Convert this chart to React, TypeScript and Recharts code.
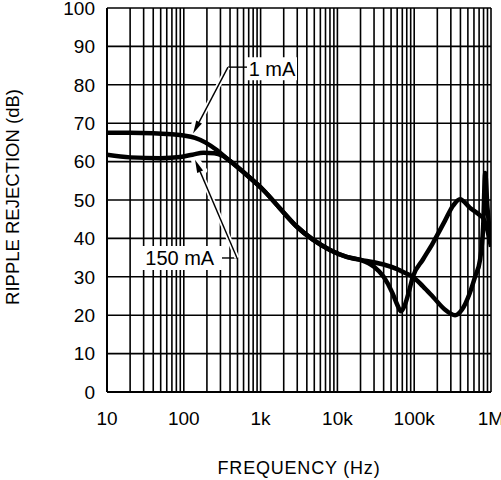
import React from 'react';
import {
    LineChart,
    Line,
    XAxis,
    YAxis,
    CartesianGrid,
    ReferenceArea,
    ReferenceLine
} from 'recharts';

const FONT = '"Liberation Sans", Arial, sans-serif';

// ripple rejection (dB) vs frequency (Hz)
const freq1mA = [
    10, 20, 40, 70, 100, 140, 190, 260, 364, 660, 1085, 1790, 2950, 4850, 8000, 13200, 20000,
    30000, 40000, 52000, 60000, 67000, 75000, 85000, 96000, 130000, 175000, 250000, 320000,
    395000, 530000, 720000, 790000, 900000, 1000000
];
const rr1mA = [
    67.5, 67.5, 67.4, 67.1, 66.8, 66.2, 65.0, 63.2, 60.8, 56.5, 52.6, 47.8, 43.1, 39.6, 37.0, 35.2, 34.4,
    32.6, 30.0, 25.8, 22.8, 21.0, 22.5, 26.0, 30.0, 34.5, 38.8, 44.5, 48.5,
    50.2, 48.0, 46.0, 45.3, 42.0, 37.8
];

const freq150mA = [
    10, 20, 50, 90, 130, 180, 250, 320, 364, 660, 1085, 1790, 2950, 4850, 8000, 13200, 20000,
    30000, 40000, 60000, 80000, 96000, 130000, 175000, 250000, 340000, 420000, 530000, 620000,
    720000, 790000, 840000, 900000, 970000, 1000000
];
const rr150mA = [
    61.8, 61.1, 60.9, 61.2, 61.8, 62.3, 62.2, 61.5, 60.8, 56.5, 52.6, 47.8, 43.1, 39.6, 37.0, 35.2, 34.4,
    33.8, 33.2, 32.0, 30.8, 30.0, 27.5, 24.8, 21.5, 20.0, 21.5, 25.8, 30.0,
    34.4, 43.0, 57.0, 48.0, 41.4, 40.0
];

const decades = [10, 100, 1000, 10000, 100000, 1000000];
const decadeLabels = ['10', '100', '1k', '10k', '100k', '1M'];
const yTicks = [0, 10, 20, 30, 40, 50, 60, 70, 80, 90, 100];

// one grid line for every 1..9 step of each decade
const gridFreqs = decades
    .slice(0, -1)
    .flatMap((d) => [1, 2, 3, 4, 5, 6, 7, 8, 9].map((m) => d * m))
    .concat([1000000]);

const data1mA = freq1mA.map((f, i) => ({ f, v: rr1mA[i] }));
const data150mA = freq150mA.map((f, i) => ({ f, v: rr150mA[i] }));

const formatFreq = (f: number) => {
    const i = decades.indexOf(f);
    return i >= 0 ? decadeLabels[i] : '';
};

// leader line ending in a filled arrowhead at (x2, y2), with a white halo
const ArrowLeader = (props: any) => {
    const { x1, y1, x2, y2 } = props;
    const a = Math.atan2(y2 - y1, x2 - x1);
    const len = 13;
    const hw = 3.2;
    const bx = x2 - len * Math.cos(a);
    const by = y2 - len * Math.sin(a);
    const px = -Math.sin(a) * hw;
    const py = Math.cos(a) * hw;
    const head = `${x2},${y2} ${bx + px},${by + py} ${bx - px},${by - py}`;
    return (
        <g>
            <line x1={x1} y1={y1} x2={bx} y2={by} stroke="#fff" strokeWidth={5} />
            <polygon points={head} fill="#fff" stroke="#fff" strokeWidth={8} strokeLinejoin="round" />
            <line x1={x1} y1={y1} x2={bx} y2={by} stroke="#000" strokeWidth={1.4} />
            <polygon points={head} fill="#000" />
        </g>
    );
};

const labelStyle = { fontSize: 20, fill: '#000', fontFamily: FONT };

export default function App() {
    return (
        <div style={{ position: 'absolute', left: 0, top: 0, width: 501, height: 480, fontFamily: FONT, background: '#fff' }}>
            <LineChart width={501} height={480} margin={{ top: 8, right: 10, bottom: 0, left: 0 }}>
                <CartesianGrid stroke="#000" strokeWidth={1.6} />
                <XAxis
                    dataKey="f"
                    type="number"
                    scale="log"
                    domain={[10, 1000000]}
                    ticks={gridFreqs}
                    interval={0}
                    allowDataOverflow
                    tickFormatter={formatFreq}
                    tickLine={false}
                    axisLine={{ stroke: '#000', strokeWidth: 2 }}
                    tickSize={0}
                    tickMargin={20}
                    height={88}
                    tick={{ fontSize: 19, fill: '#000', fontFamily: FONT }}
                />
                <YAxis
                    dataKey="v"
                    type="number"
                    domain={[0, 100]}
                    ticks={yTicks}
                    interval={0}
                    tickLine={false}
                    axisLine={{ stroke: '#000', strokeWidth: 2 }}
                    tickSize={0}
                    tickMargin={12}
                    width={107}
                    tick={{ fontSize: 19, fill: '#000', fontFamily: FONT }}
                />

                {/* label boxes */}
                <ReferenceArea x1={665} x2={2978} y1={81.2} y2={87.2} fill="#fff" fillOpacity={1} stroke="none"
                    label={{ value: '1 mA', position: 'center', ...labelStyle }} />
                <ReferenceArea x1={25} x2={314} y1={31.8} y2={38.0} fill="#fff" fillOpacity={1} stroke="none"
                    label={{ value: '150 mA', position: 'center', ...labelStyle }} />

                {/* leaders */}
                <ReferenceLine segment={[{ x: 376, y: 84.6 }, { x: 665, y: 84.6 }]} stroke="#000" strokeWidth={1.4} />
                <ReferenceLine segment={[{ x: 376, y: 84.6 }, { x: 132, y: 67.3 }]} shape={ArrowLeader} />
                <ReferenceLine segment={[{ x: 314, y: 34.9 }, { x: 493, y: 34.9 }]} stroke="#000" strokeWidth={1.4} />
                <ReferenceLine segment={[{ x: 493, y: 34.9 }, { x: 140, y: 60.5 }]} shape={ArrowLeader} />

                <Line data={data1mA} dataKey="v" type="monotone" stroke="#000" strokeWidth={4.5} dot={false} isAnimationActive={false} />
                <Line data={data150mA} dataKey="v" type="monotone" stroke="#000" strokeWidth={4.5} dot={false} isAnimationActive={false} />
            </LineChart>
            <div style={{ position: 'absolute', left: 107, width: 384, top: 459, textAlign: 'center', fontSize: 18, lineHeight: 1, letterSpacing: 0.8, whiteSpace: 'nowrap' }}>
                FREQUENCY (Hz)
            </div>
            <div style={{ position: 'absolute', left: 13, top: 197, transform: 'translate(-50%, -50%) rotate(-90deg)', fontSize: 18.5, lineHeight: 1, whiteSpace: 'nowrap' }}>
                RIPPLE REJECTION (dB)
            </div>
        </div>
    );
}
